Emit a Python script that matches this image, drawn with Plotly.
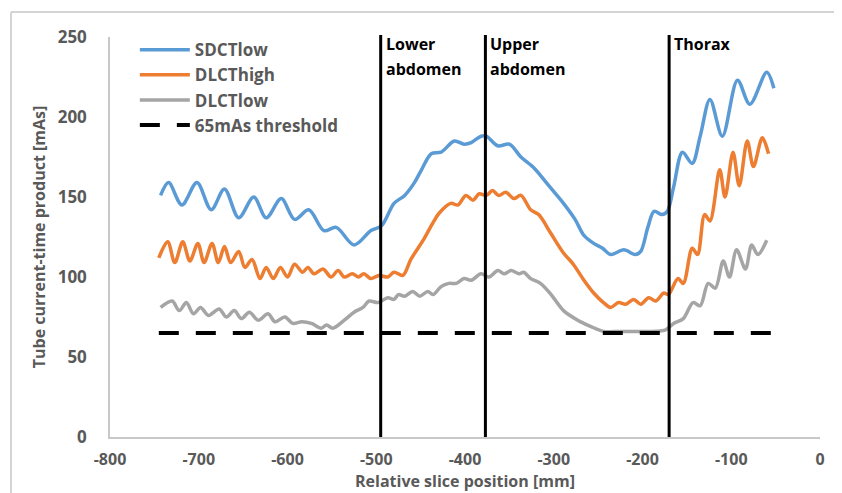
import plotly.graph_objects as go

# ---- data ----
sdct_x = [-743, -734, -719, -702, -686, -671, -655, -638, -624, -607, -592, -576, -559, -545, -525,
          -506, -494, -480, -468, -457, -449, -438, -427, -412, -401, -393, -382, -376, -363, -350,
          -337, -322, -307, -289, -276, -266, -255, -245, -236, -221, -208, -202, -194, -187, -178,
          -172, -165, -155, -144, -135, -124, -110, -93, -79, -60, -52]
sdct_y = [151, 159, 145, 159, 142, 155, 137, 150, 137, 149, 136, 142, 129, 131, 120,
          129, 132, 146, 151, 159, 167, 177, 178, 185, 183, 184, 188, 188, 182, 183,
          175, 168, 158, 146, 136, 126, 121, 118, 114, 117, 114, 116, 131, 141, 139,
          141, 156, 178, 171, 188, 211, 188, 223, 208, 228, 218]

dlcth_x = [-745, -735, -727, -718, -710, -701, -694, -685, -678, -671, -664, -655, -648, -640, -631,
           -624, -616, -608, -600, -592, -583, -577, -570, -560, -551, -543, -536, -527, -520, -514,
           -506, -497, -487, -480, -470, -461, -446, -436, -429, -416, -408, -399, -391, -384, -376,
           -369, -362, -354, -345, -337, -326, -317, -303, -289, -278, -266, -255, -244, -236, -227,
           -219, -210, -202, -193, -185, -176, -171, -160, -154, -144, -138, -130, -124, -113, -107,
           -98, -91, -82, -75, -65, -58]
dlcth_y = [112, 122, 109, 122, 110, 121, 109, 121, 109, 119, 109, 116, 106, 111, 99,
           106, 99, 106, 100, 108, 103, 106, 102, 105, 100, 104, 100, 102, 100, 102,
           99, 101, 100, 103, 101, 111, 124, 134, 140, 146, 145, 151, 148, 152, 151,
           154, 151, 153, 149, 151, 142, 139, 127, 115, 108, 98, 90, 84, 81, 84,
           83, 86, 83, 87, 85, 90, 89, 99, 96, 118, 114, 139, 135, 167, 150,
           178, 157, 185, 169, 187, 177]

dlctl_x = [-743, -730, -722, -714, -706, -698, -689, -677, -669, -660, -652, -643, -633, -622, -614,
           -603, -594, -584, -573, -562, -556, -549, -536, -525, -515, -508, -498, -487, -480, -475,
           -468, -459, -451, -442, -436, -427, -418, -410, -401, -393, -382, -373, -363, -356, -348,
           -339, -334, -326, -315, -303, -289, -273, -258, -244, -225, -206, -188, -174, -165, -154,
           -143, -135, -126, -118, -109, -102, -94, -84, -77, -70, -60]
dlctl_y = [81, 85, 79, 84, 77, 81, 76, 80, 75, 79, 74, 78, 73, 77, 72,
           75, 71, 72, 71, 68, 70, 68, 73, 78, 81, 85, 84, 87, 86, 89,
           88, 91, 88, 91, 89, 94, 96, 96, 99, 98, 102, 100, 104, 102, 104,
           102, 103, 99, 96, 89, 79, 73, 69, 66, 66, 66, 66, 67, 71, 74,
           84, 82, 96, 93, 110, 100, 117, 105, 120, 114, 123]

thr_x = [-745, -50]
thr_y = [65, 65]

region_x = [-495, -377, -170]
region_line1 = ["Lower", "Upper", "Thorax"]
region_line2 = ["abdomen", "abdomen", ""]

x_ticks = [-800, -700, -600, -500, -400, -300, -200, -100, 0]
x_tick_labels = ["-800", "-700", "-600", "-500", "-400", "-300", "-200", "-100", "0"]
y_ticks = [0, 50, 100, 150, 200, 250]
y_tick_labels = ["0", "50", "100", "150", "200", "250"]

# ---- figure ----
FONT = "Open Sans"
GREY = "#595959"

# the page places the figure 8 px from the top-left corner (default body margin)
W, H = 834, 485
ML, MT, PW, PH = 102, 29, 710, 400

fig = go.Figure()
fig.add_trace(go.Scatter(x=sdct_x, y=sdct_y, mode="lines", name="SDCTlow",
                         line=dict(color="#5b9bd5", width=3.5, shape="spline", smoothing=0.9)))
fig.add_trace(go.Scatter(x=dlcth_x, y=dlcth_y, mode="lines", name="DLCThigh",
                         line=dict(color="#ed7d31", width=3.5, shape="spline", smoothing=0.9)))
fig.add_trace(go.Scatter(x=dlctl_x, y=dlctl_y, mode="lines", name="DLCTlow",
                         line=dict(color="#a5a5a5", width=3.5, shape="spline", smoothing=0.9)))
fig.add_trace(go.Scatter(x=thr_x, y=thr_y, mode="lines", name="65mAs threshold",
                         line=dict(color="black", width=4, dash="20px,17px")))

for xv, l1, l2 in zip(region_x, region_line1, region_line2):
    fig.add_shape(type="line", xref="x", yref="paper", x0=xv, x1=xv, y0=0, y1=1.005,
                  line=dict(color="black", width=3))
    fig.add_annotation(x=xv, y=1.0, xref="x", yref="paper", text=l1, showarrow=False,
                       xanchor="left", yanchor="middle", xshift=3, yshift=-7,
                       font=dict(family=FONT, size=16, color="black", weight="bold"))
    if l2:
        fig.add_annotation(x=xv, y=1.0, xref="x", yref="paper", text=l2, showarrow=False,
                           xanchor="left", yanchor="middle", xshift=3, yshift=-32,
                           font=dict(family=FONT, size=16, color="black", weight="bold"))

# outer chart border (top and left edges; the rest falls outside the picture)
bx = (3 - ML) / PW
by = (MT + PH - 4) / PH
fig.add_shape(type="line", xref="paper", yref="paper", x0=bx, x1=(W - ML) / PW, y0=by, y1=by,
              line=dict(color="#d4d4d4", width=2))
fig.add_shape(type="line", xref="paper", yref="paper", x0=bx, x1=bx, y0=by, y1=(MT + PH - H) / PH,
              line=dict(color="#d4d4d4", width=2))

fig.update_layout(
    width=W, height=H,
    margin=dict(l=ML, r=W - ML - PW, t=MT, b=H - MT - PH, autoexpand=False),
    paper_bgcolor="white", plot_bgcolor="white",
    font=dict(family=FONT, color=GREY),
    showlegend=True,
    legend=dict(x=0.035, y=1.012, xanchor="left", yanchor="top",
                font=dict(family=FONT, size=17, color=GREY, weight="bold"),
                bgcolor="rgba(0,0,0,0)", itemwidth=50, tracegroupgap=0),
    xaxis=dict(range=[-800, 0], tickvals=x_ticks, ticktext=x_tick_labels,
               showgrid=False, zeroline=False, automargin=False,
               showline=True, linecolor="#c8c8c8", linewidth=1.5, ticks="",
               ticklabelstandoff=7,
               tickfont=dict(family=FONT, size=16, color=GREY, weight="bold"),
               title=dict(text="Relative slice position [mm]", standoff=1,
                          font=dict(family=FONT, size=16, color=GREY, weight="bold"))),
    yaxis=dict(range=[0, 250], tickvals=y_ticks, ticktext=y_tick_labels,
               showgrid=False, zeroline=False, automargin=False,
               showline=True, linecolor="#c8c8c8", linewidth=1.5, ticks="",
               ticklabelstandoff=18,
               tickfont=dict(family=FONT, size=17, color=GREY, weight="bold"),
               title=dict(text="Tube current-time product [mAs]", standoff=8,
                          font=dict(family=FONT, size=16, color=GREY, weight="bold"))),
)

fig.write_html("out.html", config={"displayModeBar": False})
